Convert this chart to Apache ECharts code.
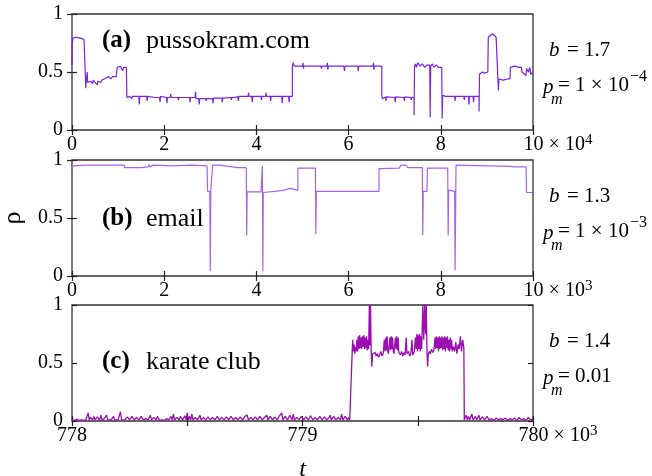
<!DOCTYPE html>
<html>
<head>
<meta charset="utf-8">
<script src="https://cdn.jsdelivr.net/npm/echarts@6/dist/echarts.min.js"></script>
<style>
  html, body { margin: 0; padding: 0; background: #fff; }
  #chart { width: 652px; height: 476px; }
</style>
</head>
<body>
<div id="chart"></div>
<script>
// ---------------- DATA ----------------
// (a) pussokram.com, t in units of 10^4
const pussokram = [
  [0,0.56],[0.005,0.74],[0.02,0.79],[0.08,0.80],[0.12,0.79],[0.2,0.79],[0.26,0.78],[0.3,0.78],
  [0.3,0.36],[0.31,0.43],[0.33,0.50],[0.34,0.41],[0.4,0.42],[0.45,0.40],[0.46,0.43],[0.5,0.41],
  [0.55,0.39],[0.56,0.42],[0.62,0.41],[0.65,0.43],[0.7,0.44],[0.75,0.45],[0.8,0.46],[0.84,0.44],
  [0.88,0.46],[0.92,0.45],[0.96,0.46],[0.97,0.50],[0.98,0.54],[1.05,0.55],[1.1,0.51],[1.12,0.54],
  [1.18,0.54],[1.19,0.28],[1.25,0.29],[1.3,0.27],[1.31,0.29],[1.45,0.29],[1.46,0.22],[1.47,0.29],
  [1.62,0.29],[1.63,0.25],[1.64,0.29],[1.8,0.28],[1.9,0.28],[1.91,0.24],[1.92,0.29],[2.05,0.28],
  [2.06,0.23],[2.07,0.28],[2.13,0.28],[2.14,0.31],[2.15,0.28],[2.3,0.28],[2.31,0.26],[2.32,0.28],
  [2.55,0.28],[2.56,0.24],[2.57,0.28],[2.67,0.28],[2.68,0.33],[2.69,0.27],[2.75,0.27],[2.76,0.22],
  [2.77,0.27],[2.9,0.27],[2.91,0.25],[2.92,0.27],[3.05,0.27],[3.06,0.23],[3.07,0.275],[3.25,0.275],
  [3.26,0.24],[3.27,0.275],[3.45,0.28],[3.46,0.26],[3.47,0.28],[3.6,0.285],[3.61,0.25],[3.62,0.29],
  [3.82,0.29],[3.83,0.32],[3.84,0.29],[3.9,0.29],[3.91,0.24],[3.92,0.29],[4.1,0.29],[4.11,0.26],
  [4.12,0.29],[4.2,0.29],[4.21,0.32],[4.22,0.29],[4.3,0.29],[4.31,0.25],[4.32,0.29],[4.55,0.29],
  [4.56,0.23],[4.57,0.29],[4.7,0.29],[4.71,0.24],[4.72,0.29],[4.78,0.29],
  [4.78,0.55],[4.8,0.58],[4.82,0.55],[5.0,0.55],[5.01,0.58],[5.02,0.53],[5.03,0.55],[5.4,0.55],
  [5.41,0.53],[5.42,0.55],[5.53,0.55],[5.54,0.58],[5.55,0.52],[5.56,0.55],[5.9,0.55],[5.91,0.51],
  [5.92,0.55],[6.2,0.55],[6.21,0.51],[6.22,0.55],[6.53,0.55],[6.54,0.58],[6.55,0.52],[6.56,0.55],
  [6.72,0.55],[6.72,0.29],[6.74,0.27],[6.8,0.285],[6.81,0.25],[6.82,0.285],[7.0,0.28],[7.01,0.24],
  [7.02,0.285],[7.2,0.28],[7.21,0.25],[7.22,0.285],[7.35,0.28],[7.36,0.26],[7.37,0.28],[7.42,0.28],
  [7.42,0.13],[7.43,0.55],[7.45,0.57],[7.47,0.54],[7.5,0.58],[7.55,0.55],[7.6,0.57],[7.65,0.54],
  [7.7,0.56],[7.76,0.56],[7.77,0.11],[7.78,0.55],[7.82,0.57],[7.85,0.54],[7.9,0.56],[7.95,0.54],
  [8.02,0.54],[8.03,0.10],[8.04,0.30],[8.1,0.29],[8.3,0.29],[8.31,0.25],[8.32,0.29],[8.5,0.29],
  [8.51,0.26],[8.52,0.29],[8.6,0.29],[8.61,0.22],[8.62,0.29],[8.7,0.29],[8.71,0.24],[8.72,0.29],
  [8.83,0.29],[8.83,0.16],[8.84,0.48],[8.9,0.50],[8.95,0.49],[9.02,0.50],[9.03,0.80],[9.06,0.81],
  [9.12,0.83],[9.16,0.84],[9.2,0.80],[9.24,0.79],[9.25,0.34],[9.26,0.44],[9.35,0.43],[9.45,0.44],
  [9.5,0.44],[9.51,0.54],[9.6,0.55],[9.7,0.54],[9.75,0.54],[9.76,0.50],[9.8,0.51],[9.85,0.47],
  [9.86,0.53],[9.9,0.50],[9.93,0.54],[9.95,0.48],[10,0.50]
];
// (b) email, t in units of 10^3
const email = [
  [0,0.93],[0.03,0.95],[0.3,0.955],[0.7,0.955],[1.13,0.955],[1.14,0.935],[1.5,0.935],[1.65,0.94],
  [1.67,0.96],[1.7,0.94],[1.72,0.93],[1.75,0.955],[2.2,0.95],[2.6,0.955],[2.93,0.95],[2.94,0.73],
  [2.99,0.73],[3.0,0.04],[3.01,0.73],[3.04,0.73],[3.05,0.955],[3.2,0.955],[3.21,0.94],[3.6,0.935],
  [3.78,0.935],[3.79,0.35],[3.8,0.725],[4.1,0.725],[4.12,0.74],[4.13,0.95],[4.14,0.04],[4.15,0.72],
  [4.4,0.73],[4.6,0.74],[4.62,0.756],[4.73,0.756],[4.74,0.74],[4.9,0.74],[4.9,0.93],[5.28,0.93],
  [5.29,0.36],[5.3,0.73],[6.0,0.73],[6.66,0.73],[6.66,0.925],[7.1,0.93],[7.13,0.955],[7.25,0.955],
  [7.28,0.935],[7.6,0.935],[7.61,0.353],[7.62,0.73],[7.7,0.73],[7.71,0.93],[8.15,0.93],[8.16,0.35],
  [8.17,0.74],[8.3,0.73],[8.31,0.05],[8.33,0.955],[9.0,0.95],[9.5,0.945],[9.6,0.94],[9.85,0.94],
  [9.86,0.72],[10,0.72]
];
// (c) karate club, t in units of 10^3
const karate = [
  [778.00,0.01],[778.01,0.005],[778.02,0.015],[778.03,0.005],[778.04,0.01],[778.05,0.005],[778.06,0.01],
  [778.07,0.07],[778.075,0.01],[778.08,0.03],[778.09,0.01],[778.095,0.04],[778.10,0.01],[778.11,0.035],
  [778.12,0.005],[778.125,0.05],[778.13,0.01],[778.14,0.02],[778.15,0.05],[778.155,0.01],[778.16,0.025],
  [778.17,0.01],[778.18,0.04],[778.185,0.01],[778.19,0.02],[778.20,0.01],[778.21,0.08],[778.215,0.01],
  [778.22,0.02],[778.23,0.01],[778.24,0.035],[778.25,0.01],[778.26,0.04],[778.27,0.01],[778.28,0.03],
  [778.29,0.01],[778.30,0.04],[778.31,0.01],[778.32,0.02],[778.33,0.01],[778.34,0.05],[778.345,0.01],
  [778.355,0.03],[778.365,0.01],[778.37,0.04],[778.38,0.005],[778.39,0.01],[778.40,0.005],[778.41,0.02],
  [778.42,0.01],[778.43,0.04],[778.435,0.01],[778.44,0.06],[778.445,0.01],[778.455,0.03],[778.465,0.01],
  [778.47,0.04],[778.48,0.01],[778.49,0.045],[778.495,0.01],[778.50,0.07],[778.505,0.01],[778.51,0.04],
  [778.515,0.01],[778.52,0.06],[778.525,0.01],[778.535,0.03],[778.545,0.01],[778.555,0.05],[778.56,0.01],
  [778.57,0.03],[778.58,0.01],[778.59,0.035],[778.60,0.01],[778.61,0.03],[778.62,0.01],[778.63,0.04],
  [778.64,0.01],[778.65,0.03],[778.66,0.01],[778.67,0.035],[778.68,0.01],[778.69,0.04],[778.70,0.01],
  [778.71,0.03],[778.72,0.01],[778.73,0.035],[778.74,0.01],[778.75,0.04],[778.76,0.05],[778.765,0.01],
  [778.775,0.03],[778.785,0.01],[778.795,0.035],[778.805,0.01],[778.815,0.04],[778.825,0.01],[778.835,0.03],
  [778.845,0.05],[778.85,0.01],[778.86,0.04],[778.87,0.01],[778.88,0.035],[778.89,0.01],[778.90,0.045],
  [778.91,0.07],[778.915,0.01],[778.925,0.04],[778.935,0.01],[778.945,0.05],[778.955,0.01],[778.96,0.06],
  [778.965,0.01],[778.975,0.03],[778.985,0.01],[778.995,0.04],[779.005,0.01],[779.015,0.035],[779.025,0.01],
  [779.035,0.045],[779.045,0.01],[779.055,0.03],[779.065,0.01],[779.075,0.04],[779.085,0.01],[779.095,0.035],
  [779.105,0.01],[779.115,0.03],[779.12,0.05],[779.125,0.01],[779.135,0.04],[779.145,0.01],[779.155,0.03],
  [779.165,0.01],[779.17,0.06],[779.175,0.01],[779.185,0.04],[779.195,0.01],[779.2,0.03],[779.205,0.01],
  [779.213,0.01],
  [779.216,0.62],[779.218,0.70],[779.221,0.60],[779.224,0.66],[779.227,0.58],[779.23,0.64],[779.233,0.60],
  [779.236,0.70],[779.239,0.60],[779.242,0.73],[779.245,0.62],[779.248,0.74],[779.251,0.63],[779.254,0.72],
  [779.257,0.62],[779.26,0.73],[779.263,0.64],[779.266,0.74],[779.269,0.62],[779.272,0.72],[779.275,0.63],
  [779.278,0.73],[779.281,0.61],[779.284,0.70],[779.287,0.62],[779.29,1.0],[779.292,0.65],[779.295,1.0],
  [779.298,0.60],[779.301,0.47],[779.304,0.58],[779.31,0.57],[779.315,0.59],[779.32,0.56],[779.325,0.58],
  [779.33,0.55],[779.335,0.57],[779.34,0.60],[779.345,0.56],[779.35,0.58],[779.355,0.70],[779.358,0.60],
  [779.361,0.72],[779.364,0.61],[779.367,0.73],[779.37,0.60],[779.373,0.58],[779.376,0.57],[779.379,0.72],
  [779.382,0.61],[779.385,0.73],[779.388,0.62],[779.391,0.72],[779.394,0.60],[779.397,0.58],[779.4,0.57],
  [779.403,0.72],[779.406,0.62],[779.409,0.73],[779.412,0.61],[779.415,0.72],[779.418,0.59],[779.425,0.57],
  [779.43,0.60],[779.435,0.56],[779.44,0.59],[779.445,0.57],[779.45,0.72],[779.453,0.58],[779.46,0.60],
  [779.465,0.56],[779.47,0.58],[779.475,0.70],[779.478,0.57],[779.485,0.60],[779.49,0.72],[779.493,0.62],
  [779.496,0.75],[779.499,0.60],[779.502,0.74],[779.505,0.62],[779.508,0.75],[779.511,0.60],[779.514,0.73],
  [779.517,0.62],[779.522,1.0],[779.526,0.70],[779.53,1.0],[779.534,0.75],[779.537,1.0],[779.54,0.60],
  [779.543,0.47],[779.546,0.58],[779.55,0.60],[779.555,0.58],[779.56,0.62],[779.565,0.59],[779.57,0.61],
  [779.575,0.72],[779.578,0.62],[779.581,0.73],[779.584,0.63],[779.587,0.72],[779.59,0.60],[779.593,0.73],
  [779.596,0.62],[779.599,0.72],[779.602,0.63],[779.605,0.73],[779.608,0.61],[779.611,0.72],[779.614,0.62],
  [779.617,0.73],[779.62,0.60],[779.623,0.72],[779.626,0.63],[779.629,0.73],[779.632,0.61],[779.635,0.70],
  [779.638,0.60],[779.641,0.72],[779.644,0.62],[779.647,0.70],[779.65,0.60],[779.655,0.64],[779.66,0.60],
  [779.665,0.68],[779.67,0.58],[779.675,0.66],[779.68,0.62],[779.685,0.73],[779.69,0.60],[779.695,0.70],
  [779.7,0.63],[779.702,0.01],
  [779.71,0.05],[779.715,0.01],[779.72,0.04],[779.725,0.01],[779.735,0.06],[779.74,0.01],[779.75,0.04],
  [779.755,0.01],[779.765,0.05],[779.77,0.01],[779.78,0.035],[779.79,0.01],[779.8,0.04],[779.81,0.01],
  [779.82,0.02],[779.83,0.005],[779.84,0.025],[779.85,0.01],[779.86,0.02],[779.87,0.01],[779.88,0.025],
  [779.89,0.005],[779.9,0.02],[779.91,0.01],[779.92,0.025],[779.93,0.005],[779.94,0.03],[779.95,0.01],
  [779.96,0.02],[779.97,0.005],[779.98,0.03],[779.99,0.01],[780,0.02]
];

// Tick labels
const xTicksA = [0, 2, 4, 6, 8, 10];
const xLabelsA = ['0', '2', '4', '6', '8', '10'];
const xExpA = '4';
const xTicksB = [0, 2, 4, 6, 8, 10];
const xLabelsB = ['0', '2', '4', '6', '8', '10'];
const xExpB = '3';
const xTicksC = [778, 779, 780];
const xLabelsC = ['778', '779', '780'];
const xExpC = '3';
const yTicks = [0, 0.5, 1];
const yLabels = ['0', '0.5', '1'];

// Panel annotations
const panelTags = ['(a)', '(b)', '(c)'];
const panelNames = ['pussokram.com', 'email', 'karate club'];
const bValues = ['1.7', '1.3', '1.4'];
const pmValues = [['1 × 10', '−4'], ['1 × 10', '−3'], ['0.01', '']];

// ---------------- CHART ----------------
const FONT = '"Liberation Serif", "Times New Roman", serif';
const colors = ['#7a22e6', '#a862f2', '#9b0fb2'];
const grids = [
  { left: 72, top: 14, width: 461, height: 116 },
  { left: 72, top: 160, width: 461, height: 116 },
  { left: 72, top: 305, width: 461, height: 116 }
];

function xFormatter(ticks, labels, exp, maxVal) {
  return function (v) {
    const i = ticks.findIndex(t => Math.abs(t - v) < 1e-9);
    if (i < 0) return '';
    if (Math.abs(v - maxVal) < 1e-9) {
      return '{pad| }{n|' + labels[i] + '}{x| × 10}{e|' + exp + '}';
    }
    return '{n|' + labels[i] + '}';
  };
}
function richFor(padW) {
  return {
    pad: { width: padW, fontSize: 20, lineHeight: 24, fontFamily: FONT },
    n: { fontSize: 20, lineHeight: 24, fontFamily: FONT, color: '#000' },
    x: { fontSize: 20, lineHeight: 24, fontFamily: FONT, color: '#000' },
    e: { fontSize: 15, lineHeight: 15, fontFamily: FONT, color: '#000', verticalAlign: 'top' }
  };
}

const tickStyle = { show: true, inside: true, length: 5, lineStyle: { color: '#222', width: 1.2 } };

function makeX(gi, min, max, interval, formatter, padW, extra) {
  const bottom = Object.assign({
    type: 'value', gridIndex: gi, min: min, max: max, interval: interval, position: 'bottom',
    axisLine: { show: false }, axisTick: tickStyle, splitLine: { show: false },
    axisLabel: { show: true, formatter: formatter, rich: richFor(padW), margin: 3, color: '#000',
                 showMinLabel: true, showMaxLabel: true, hideOverlap: false }
  }, extra || {});
  const top = {
    type: 'value', gridIndex: gi, min: min, max: max, interval: interval, position: 'top',
    axisLine: { show: false }, axisTick: tickStyle, splitLine: { show: false }, axisLabel: { show: false }
  };
  return [bottom, top];
}
function makeY(gi, extra) {
  const left = Object.assign({
    type: 'value', gridIndex: gi, min: 0, max: 1, interval: 0.5, position: 'left',
    axisLine: { show: false }, axisTick: tickStyle, splitLine: { show: false },
    axisLabel: {
      margin: 9, fontSize: 20, fontFamily: FONT, color: '#000',
      formatter: v => { const i = yTicks.findIndex(t => Math.abs(t - v) < 1e-9); return i < 0 ? '' : yLabels[i]; }
    }
  }, extra || {});
  const right = {
    type: 'value', gridIndex: gi, min: 0, max: 1, interval: 0.5, position: 'right',
    axisLine: { show: false }, axisTick: tickStyle, splitLine: { show: false }, axisLabel: { show: false }
  };
  return [left, right];
}

const xa = makeX(0, 0, 10, 2, xFormatter(xTicksA, xLabelsA, xExpA, 10), 50);
const xb = makeX(1, 0, 10, 2, xFormatter(xTicksB, xLabelsB, xExpB, 10), 50);
const xc = makeX(2, 778, 780, 0.5, xFormatter(xTicksC, xLabelsC, xExpC, 780), 50, {
  name: 't', nameLocation: 'middle', nameGap: 37,
  nameTextStyle: { fontSize: 24, fontStyle: 'italic', fontFamily: FONT, color: '#000' }
});
const ya = makeY(0);
const yb = makeY(1, {
  name: 'ρ', nameLocation: 'middle', nameRotate: 90, nameGap: 46,
  nameTextStyle: { fontSize: 26, fontFamily: FONT, color: '#000' }
});
const yc = makeY(2);

const seriesData = [pussokram, email, karate];

const graphics = [];
const yOff = [0, 146, 291];
for (let k = 0; k < 3; k++) {
  const dy = yOff[k];
  const labelY = [41, 219, 362][k];
  graphics.push({ type: 'text', x: 102, y: labelY, style: { text: panelTags[k], font: 'bold 25px ' + FONT, fill: '#000', align: 'left', verticalAlign: 'middle' } });
  graphics.push({ type: 'text', x: 146, y: labelY, style: { text: panelNames[k], font: '26px ' + FONT, fill: '#000', align: 'left', verticalAlign: 'middle' } });
  graphics.push({ type: 'text', x: 549, y: 50 + dy, style: { text: 'b', font: 'italic 21px ' + FONT, fill: '#000', align: 'left', verticalAlign: 'middle' } });
  graphics.push({ type: 'text', x: 567, y: 50 + dy, style: { text: '= ' + bValues[k], font: '21px ' + FONT, fill: '#000', align: 'left', verticalAlign: 'middle' } });
  graphics.push({ type: 'text', x: 543, y: 87 + dy, style: { text: 'p', font: 'italic 21px ' + FONT, fill: '#000', align: 'left', verticalAlign: 'middle' } });
  graphics.push({ type: 'text', x: 551, y: 100 + dy, style: { text: 'm', font: 'italic 16px ' + FONT, fill: '#000', align: 'left', verticalAlign: 'middle' } });
  graphics.push({ type: 'text', x: 558, y: 85 + dy, style: { text: '= ' + pmValues[k][0], font: '21px ' + FONT, fill: '#000', align: 'left', verticalAlign: 'middle' } });
  if (pmValues[k][1]) {
    graphics.push({ type: 'text', x: 630, y: 77 + dy, style: { text: pmValues[k][1], font: '16px ' + FONT, fill: '#000', align: 'left', verticalAlign: 'middle' } });
  }
}

const option = {
  animation: false,
  backgroundColor: '#fff',
  grid: grids.map(g => Object.assign({ show: true, borderColor: '#333', borderWidth: 1.3, backgroundColor: 'transparent', containLabel: false, outerBoundsMode: 'none' }, g)),
  xAxis: [xa[0], xa[1], xb[0], xb[1], xc[0], xc[1]],
  yAxis: [ya[0], ya[1], yb[0], yb[1], yc[0], yc[1]],
  series: seriesData.map((d, k) => ({
    type: 'line', xAxisIndex: k * 2, yAxisIndex: k * 2, data: d,
    showSymbol: false, symbol: 'none', sampling: null, clip: true,
    lineStyle: { color: colors[k], width: k === 2 ? 1.3 : 1.2 }, itemStyle: { color: colors[k] }
  })),
  graphic: graphics
};

const chart = echarts.init(document.getElementById('chart'), null, { renderer: 'canvas' });
chart.setOption(option);
</script>
</body>
</html>
